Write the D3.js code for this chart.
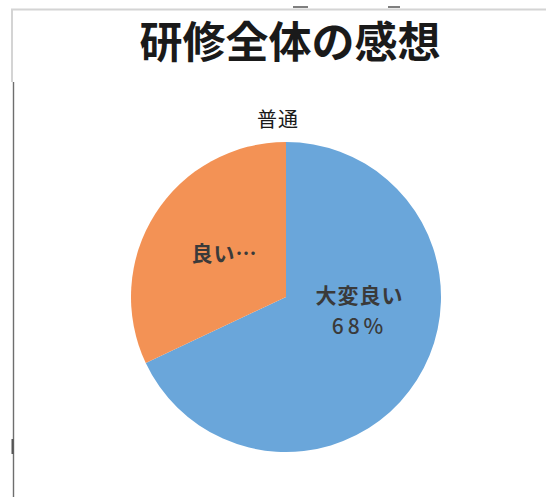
<!DOCTYPE html>
<html>
<head>
<meta charset="utf-8">
<script src="https://cdn.jsdelivr.net/npm/d3@7"></script>
<style>
  body { margin: 0; background: #fff; }
  svg { display: block; }
</style>
</head>
<body>
<script>
// chart values
var categories = ['大変良い', '良い', '普通'];
var values = [68, 32, 0];
var labelTexts = ['大変良い\n68%', '良い…', '普通'];
var colors = ['#6aa6da', '#f39255', '#a5a5a5'];

var width = 546,
	height = 497,
	cx = 286,
	cy = 297,
	radius = 155;

var svg = d3.select('body').append('svg')
	.attr('width', width)
	.attr('height', height);

// scanned frame of the chart area
svg.append('path')
	.attr('d', 'M12,82 V9.5 H546')
	.attr('fill', 'none')
	.attr('stroke', '#d4d4d4')
	.attr('stroke-width', 2);
svg.append('line')
	.attr('x1', 13.5).attr('x2', 13.5)
	.attr('y1', 82).attr('y2', 497)
	.attr('stroke', '#6e6e6e')
	.attr('stroke-width', 1.4);
svg.append('line')
	.attr('x1', 12.5).attr('x2', 12.5)
	.attr('y1', 439).attr('y2', 454)
	.attr('stroke', '#555')
	.attr('stroke-width', 2);
svg.selectAll('line.tick-top')
	.data([[293, 308], [388, 400]])
	.enter().append('line')
	.attr('class', 'tick-top')
	.attr('x1', function(d){ return d[0]; })
	.attr('x2', function(d){ return d[1]; })
	.attr('y1', 7).attr('y2', 7)
	.attr('stroke', '#555')
	.attr('stroke-width', 1.5);

// title
svg.append('text')
	.attr('x', 290)
	.attr('y', 58)
	.attr('text-anchor', 'middle')
	.style('font-family', '"Noto Sans CJK JP", sans-serif')
	.style('font-weight', 'bold')
	.style('font-size', '43px')
	.style('fill', '#1a1a1a')
	.text('研修全体の感想');

var pie = d3.pie().sort(null).value(function(d){ return d; });
var arcs = pie(values);

var arc = d3.arc().innerRadius(0).outerRadius(radius);

var g = svg.append('g')
	.attr('transform', 'translate(' + cx + ',' + cy + ')');

g.selectAll('path')
	.data(arcs)
	.enter().append('path')
	.attr('d', arc)
	.style('fill', function(d, i){ return colors[i]; });

// labels: inside slices, zero slice outside at the top
var inner = d3.arc().innerRadius(radius * 0.47).outerRadius(radius * 0.47);
var outer = d3.arc().innerRadius(radius + 22).outerRadius(radius + 22);
var nudge = { '大変良い': [12, -25], '良い': [0, -4], '普通': [-8, 0] };

var labels = g.selectAll('text.lbl')
	.data(arcs)
	.enter().append('text')
	.attr('class', 'lbl')
	.attr('text-anchor', 'middle')
	.style('font-family', '"Noto Sans CJK JP", sans-serif')
	.style('font-size', function(d){ return d.value === 0 ? '20px' : '21px'; })
	.style('font-weight', function(d){ return d.value === 0 ? 'normal' : 'bold'; })
	.style('fill', function(d){ return d.value === 0 ? '#1a1a1a' : '#3a3a3a'; })
	.attr('transform', function(d, i){
		var c = d.value === 0 ? outer.centroid(d) : inner.centroid(d);
		var n = nudge[categories[i]];
		return 'translate(' + (c[0] + n[0]) + ',' + (c[1] + n[1]) + ')';
	});

labels.each(function(d, i){
	var lines = labelTexts[i].split('\n');
	var t = d3.select(this);
	lines.forEach(function(s, k){
		t.append('tspan')
			.attr('x', 0)
			.attr('dy', k === 0 ? (0.35 - (lines.length - 1) * 0.72) + 'em' : '1.45em')
			.style('letter-spacing', /%/.test(s) ? '4px' : '1px')
			.style('font-weight', /%/.test(s) ? '500' : null)
			.text(s);
	});
});
</script>
</body>
</html>
